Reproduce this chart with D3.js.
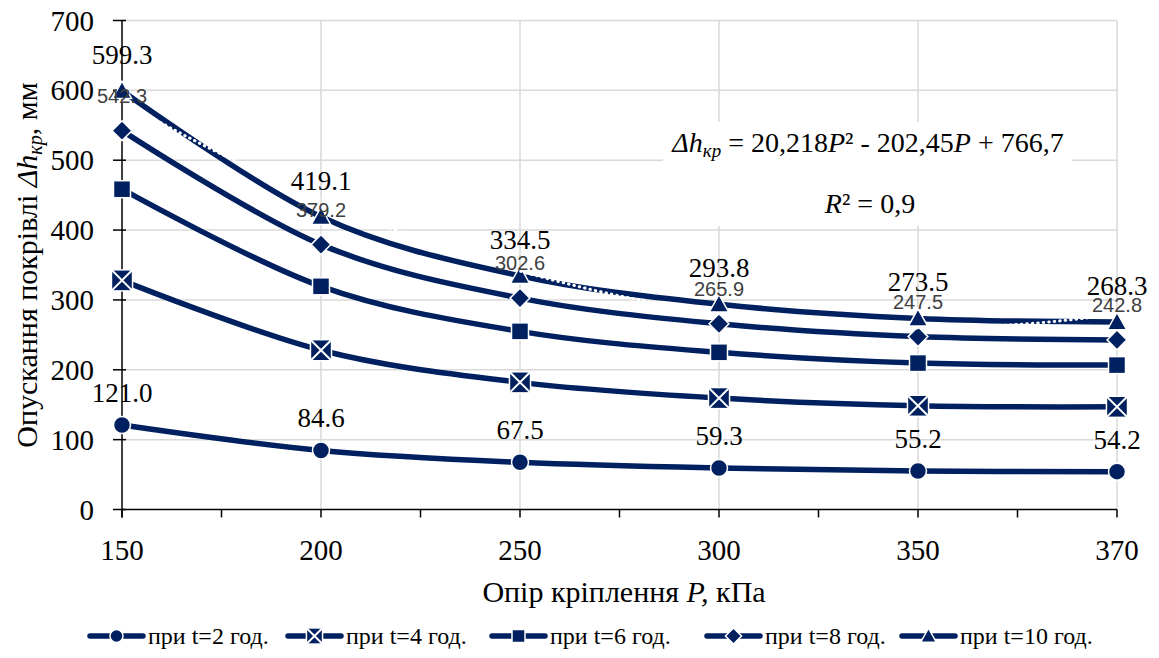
<!DOCTYPE html>
<html>
<head>
<meta charset="utf-8">
<script src="https://d3js.org/d3.v7.min.js"></script>
</head>
<body style="margin:0">
<svg id="chart" width="1159" height="658"></svg>
<script>
// data
var categories = ["150", "200", "250", "300", "350", "370"];
var seriesT2  = [121.0, 84.6, 67.5, 59.3, 55.2, 54.2];
var seriesT4  = [328, 228, 182, 159.5, 148.5, 147];
var seriesT6  = [458.5, 319.5, 255, 225, 209.6, 206.7];
var seriesT8  = [542.3, 379.2, 302.6, 265.9, 247.5, 242.8];
var seriesT10 = [599.3, 419.1, 334.5, 293.8, 273.5, 268.3];
var seriesNames = ["при t=2 год.", "при t=4 год.", "при t=6 год.", "при t=8 год.", "при t=10 год."];
var yTicks = [0, 100, 200, 300, 400, 500, 600, 700];
// polynomial trendline of t=10 (P = category number 1..6)
var trendCoef = [20.218, -202.45, 766.7];

var navy = "#002060";
var SERIF = "'" + "Liberation Serif" + "'";
var SANS = "'" + "Liberation Sans" + "'";
var svg = d3.select("#chart");

function txt(sel, size, fam) {
  return sel.append("text").style("font-family", fam || SERIF).attr("font-size", size);
}

var x = d3.scalePoint().domain(categories).range([122, 1117]);
var y = d3.scaleLinear().domain([0, 700]).range([509.5, 20.5]);
var step = x.step();

// gridlines
var grid = svg.append("g").attr("stroke", "#d9d9d9").attr("stroke-width", 1.5);
grid.selectAll(".h").data(yTicks.slice(1)).enter().append("line")
  .attr("x1", x(categories[0])).attr("x2", x(categories[5]))
  .attr("y1", d => y(d)).attr("y2", d => y(d));
grid.selectAll(".v").data(categories.slice(1)).enter().append("line")
  .attr("x1", d => x(d)).attr("x2", d => x(d))
  .attr("y1", y(700)).attr("y2", y(0));

// equation box hides the grid behind it
svg.append("rect").attr("x", 663).attr("y", 122).attr("width", 409).attr("height", 104).attr("fill", "#fff");

// axes
var ax = svg.append("g").attr("stroke", "#000").attr("stroke-width", 1.5);
ax.append("line").attr("x1", x(categories[0])).attr("x2", x(categories[0])).attr("y1", y(700)).attr("y2", y(0) + 8);
ax.append("line").attr("x1", x(categories[0])).attr("x2", x(categories[5])).attr("y1", y(0)).attr("y2", y(0));
ax.selectAll(".yt").data(yTicks).enter().append("line")
  .attr("x1", x(categories[0]) - 9).attr("x2", x(categories[0]) + 4)
  .attr("y1", d => y(d)).attr("y2", d => y(d));
var halfTicks = d3.range(0, categories.length * 2 - 1).map(i => x(categories[0]) + i * step / 2);
ax.selectAll(".xt").data(halfTicks).enter().append("line")
  .attr("x1", d => d).attr("x2", d => d)
  .attr("y1", y(0)).attr("y2", y(0) + 8);

// tick labels
yTicks.forEach(function(d) {
  txt(svg, 29).attr("x", 94).attr("y", y(d) + 10).attr("text-anchor", "end").text(d);
});
categories.forEach(function(d) {
  txt(svg, 29).attr("x", x(d)).attr("y", 560).attr("text-anchor", "middle").text(d);
});

// axis titles
var xt = txt(svg, 30).attr("x", 624).attr("y", 602).attr("text-anchor", "middle");
xt.append("tspan").text("Опір кріплення ");
xt.append("tspan").attr("font-style", "italic").text("P,");
xt.append("tspan").text(" кПа");

var yt = txt(svg, 30).attr("transform", "translate(37,265) rotate(-90)").attr("text-anchor", "middle");
yt.append("tspan").text("Опускання покрівлі ");
yt.append("tspan").attr("font-style", "italic").text("Δh");
yt.append("tspan").attr("font-style", "italic").attr("font-size", 20).attr("dy", 5).text("кр");
yt.append("tspan").attr("dy", -5).text(", мм");

// equation
var eq = txt(svg, 28).attr("x", 868).attr("y", 152).attr("text-anchor", "middle");
eq.append("tspan").attr("font-style", "italic").text("Δh");
eq.append("tspan").attr("font-style", "italic").attr("font-size", 19).attr("dy", 5).text("кр");
eq.append("tspan").attr("dy", -5).text(" = 20,218");
eq.append("tspan").attr("font-style", "italic").text("P");
eq.append("tspan").text("² - 202,45");
eq.append("tspan").attr("font-style", "italic").text("P");
eq.append("tspan").text(" + 766,7");
var r2 = txt(svg, 28).attr("x", 870).attr("y", 213).attr("text-anchor", "middle");
r2.append("tspan").attr("font-style", "italic").text("R");
r2.append("tspan").text("² = 0,9");

// marker drawing
function marker(g, type, cx, cy, s) {
  var m;
  if (type === "circle") {
    m = g.append("circle").attr("cx", cx).attr("cy", cy).attr("r", s * 0.5);
  } else if (type === "xsq") {
    var h = s * 0.62;
    g.append("rect").attr("x", cx - h).attr("y", cy - h).attr("width", 2 * h).attr("height", 2 * h)
      .attr("fill", navy).attr("stroke", "#fff").attr("stroke-width", 1.5);
    g.append("path").attr("d", "M" + (cx - h) + "," + (cy - h) + "L" + (cx + h) + "," + (cy + h) +
      "M" + (cx + h) + "," + (cy - h) + "L" + (cx - h) + "," + (cy + h))
      .attr("stroke", "#fff").attr("stroke-width", 2);
    return;
  } else if (type === "square") {
    var q = s * 0.5;
    m = g.append("rect").attr("x", cx - q).attr("y", cy - q).attr("width", 2 * q).attr("height", 2 * q);
  } else if (type === "diamond") {
    var d = s * 0.62;
    m = g.append("path").attr("d", "M" + cx + "," + (cy - d) + "L" + (cx + d) + "," + cy + "L" + cx + "," + (cy + d) + "L" + (cx - d) + "," + cy + "Z");
  } else {
    var t = s * 0.6;
    m = g.append("path").attr("d", "M" + cx + "," + (cy - t) + "L" + (cx + t) + "," + (cy + t * 0.8) + "L" + (cx - t) + "," + (cy + t * 0.8) + "Z");
  }
  m.attr("fill", navy).attr("stroke", "#fff").attr("stroke-width", 1.5);
}

var allSeries = [seriesT2, seriesT4, seriesT6, seriesT8, seriesT10];
var markerTypes = ["circle", "xsq", "square", "diamond", "triangle"];
var markerSizes = [17, 17, 17, 16, 16];

var line = d3.line().x((d, i) => x(categories[i])).y(d => y(d)).curve(d3.curveCardinal.tension(0));

allSeries.forEach(function(vals, si) {
  var g = svg.append("g");
  g.append("path").attr("d", line(vals)).attr("fill", "none")
    .attr("stroke", navy).attr("stroke-width", 5.5);
  vals.forEach(function(v, i) { marker(g, markerTypes[si], x(categories[i]), y(v), markerSizes[si]); });
});

// trendline (white dotted) for t=10
var trendPts = d3.range(0, 100.01, 1).map(function(k) {
  var p = 1 + k / 20;
  return [x(categories[0]) + (p - 1) * step, y(trendCoef[0] * p * p + trendCoef[1] * p + trendCoef[2])];
});
svg.append("path").attr("d", d3.line()(trendPts)).attr("fill", "none")
  .attr("stroke", "#fff").attr("stroke-width", 3).attr("stroke-dasharray", "0.5,5").attr("stroke-linecap", "round");

// data labels
function labels(vals, dy, size, fam, fill) {
  vals.forEach(function(v, i) {
    txt(svg, size, fam).attr("x", x(categories[i])).attr("y", y(v) - dy)
      .attr("text-anchor", "middle").attr("fill", fill).text(v.toFixed(1));
  });
}
labels(seriesT2, 23, 27, SERIF, "#000");
labels(seriesT10, 27, 27, SERIF, "#000");
labels(seriesT8, 28, 20, SANS, "#404040");

// legend
var legendX = [90, 288, 492, 707, 902];
var ly = 636;
seriesNames.forEach(function(name, i) {
  var lx = legendX[i];
  var g = svg.append("g");
  g.append("line").attr("x1", lx).attr("x2", lx + 53).attr("y1", ly).attr("y2", ly)
    .attr("stroke", navy).attr("stroke-width", 5.5).attr("stroke-linecap", "round");
  marker(g, markerTypes[i], lx + 26.5, ly, 13);
  txt(g, 24).attr("x", lx + 58).attr("y", ly + 8).text(name);
});
</script>
</body>
</html>
